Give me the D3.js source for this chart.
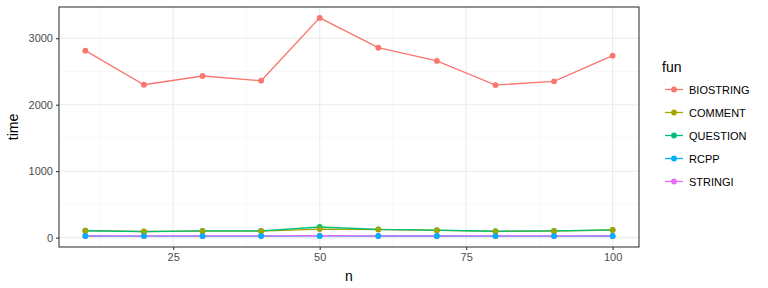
<!DOCTYPE html>
<html><head><meta charset="utf-8">
<script src="https://cdn.jsdelivr.net/npm/d3@7"></script>
<style>body{margin:0;background:#fff}svg{display:block;font-family:"Liberation Sans",Arial,sans-serif}</style>
</head><body><svg id="c" width="768" height="288"></svg>
<script>
const nValues = [10,20,30,40,50,60,70,80,90,100];
const funNames = ["BIOSTRING","COMMENT","QUESTION","RCPP","STRINGI"];
const funColors = ["#F8766D","#A3A500","#00BF7D","#00B0F6","#E76BF3"];
const biostring = [2813,2300,2432,2361,3306,2858,2658,2296,2352,2738];
const comment   = [105,92,98,98,128,122,110,95,98,115];
const question  = [103,90,100,100,160,125,112,96,100,118];
const rcpp      = [24,23,23,24,25,24,24,23,23,24];
const stringi   = [26,25,25,27,28,26,26,25,25,26];
const xTicks = [25,50,75,100];
const yTicks = [0,1000,2000,3000];
const xMinor = [12.5,37.5,62.5,87.5];
const yMinor = [500,1500,2500];

const seriesVals = [biostring, comment, question, rcpp, stringi];
const series = funNames.map((f,i)=>({name:f,color:funColors[i],vals:seriesVals[i].map((v,j)=>({n:nValues[j],t:v}))}));

const svg = d3.select("#c");
const L=59,T=7,R=639,B=247;
const xe = d3.extent(nValues), xp=(xe[1]-xe[0])*0.05;
const allV = seriesVals.flat(); const ye=d3.extent(allV), yp=(ye[1]-ye[0])*0.05;
const x = d3.scaleLinear().domain([xe[0]-xp,xe[1]+xp]).range([L,R]);
const y = d3.scaleLinear().domain([ye[0]-yp,ye[1]+yp]).range([B,T]);

const g = svg.append("g");
g.selectAll(".xm").data(xMinor).join("line").attr("x1",d=>x(d)).attr("x2",d=>x(d)).attr("y1",T).attr("y2",B).attr("stroke","#f2f2f2").attr("stroke-width",0.55);
g.selectAll(".ym").data(yMinor).join("line").attr("y1",d=>y(d)).attr("y2",d=>y(d)).attr("x1",L).attr("x2",R).attr("stroke","#f2f2f2").attr("stroke-width",0.55);
g.selectAll(".xM").data(xTicks).join("line").attr("x1",d=>x(d)).attr("x2",d=>x(d)).attr("y1",T).attr("y2",B).attr("stroke","#ebebeb").attr("stroke-width",1.07);
g.selectAll(".yM").data(yTicks).join("line").attr("y1",d=>y(d)).attr("y2",d=>y(d)).attr("x1",L).attr("x2",R).attr("stroke","#ebebeb").attr("stroke-width",1.07);

const line = d3.line().x(d=>x(d.n)).y(d=>y(d.t));
series.forEach(s=>{
  svg.append("path").datum(s.vals).attr("d",line).attr("fill","none").attr("stroke",s.color).attr("stroke-width",1.3);
});
// points in data row order
const pointOrder = [0,2,4,1,3];
pointOrder.forEach(i=>{
  const s=series[i];
  svg.selectAll(null).data(s.vals).join("circle").attr("cx",d=>x(d.n)).attr("cy",d=>y(d.t)).attr("r",2.9).attr("fill",s.color);
});

svg.append("rect").attr("x",L).attr("y",T).attr("width",R-L).attr("height",B-T).attr("fill","none").attr("stroke","#333333").attr("stroke-width",1.07);

const xa = svg.append("g").attr("transform",`translate(0,${B})`).call(d3.axisBottom(x).tickValues(xTicks).tickSize(3).tickPadding(3).tickFormat(d3.format("d")));
const ya = svg.append("g").attr("transform",`translate(${L},0)`).call(d3.axisLeft(y).tickValues(yTicks).tickSize(3).tickPadding(3).tickFormat(d3.format("d")));
[xa,ya].forEach(a=>{a.select(".domain").remove();a.selectAll(".tick line").attr("stroke","#333333").attr("stroke-width",1.07);a.selectAll(".tick text").attr("fill","#4d4d4d").attr("font-size","11px").attr("font-family","Liberation Sans, Arial, sans-serif");});

svg.append("text").attr("x",(L+R)/2).attr("y",281).attr("text-anchor","middle").attr("font-size","14px").attr("fill","#000").text("n");
svg.append("text").attr("transform",`translate(18,${(T+B)/2}) rotate(-90)`).attr("text-anchor","middle").attr("font-size","14px").attr("fill","#000").text("time");

const lg = svg.append("g");
lg.append("text").attr("x",662).attr("y",72).attr("font-size","14px").text("fun");
series.forEach((s,i)=>{
  const cy = 89.5+i*23;
  lg.append("line").attr("x1",665).attr("x2",683).attr("y1",cy).attr("y2",cy).attr("stroke",s.color).attr("stroke-width",1.3);
  lg.append("circle").attr("cx",674).attr("cy",cy).attr("r",2.9).attr("fill",s.color);
  lg.append("text").attr("x",689).attr("y",cy+4).attr("font-size","11px").attr("fill","#000").text(s.name);
});
</script></body></html>
